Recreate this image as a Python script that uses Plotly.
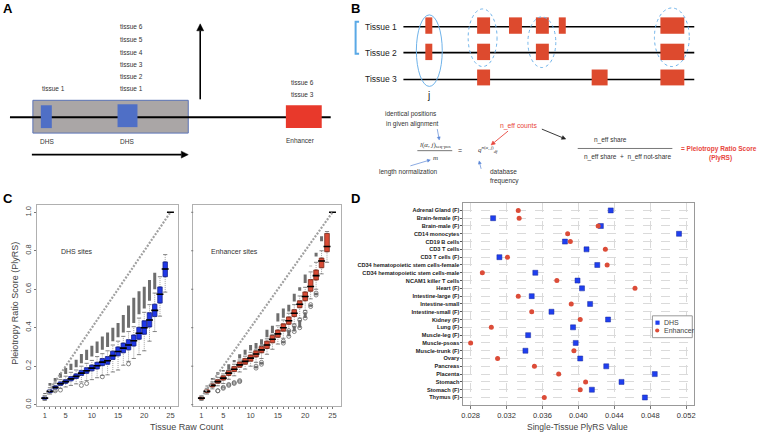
import math
import plotly.graph_objects as go

W, H = 762, 438

# ---- panel C data (box statistics per tissue raw count) ----
counts = list(range(1, 25))

dhs_q1 = [0.028, 0.062, 0.082, 0.100, 0.111, 0.124, 0.136, 0.152, 0.163, 0.176, 0.186, 0.203,
          0.210, 0.235, 0.254, 0.270, 0.285, 0.305, 0.340, 0.366, 0.404, 0.458, 0.528, 0.665]
dhs_med = [0.034, 0.069, 0.090, 0.109, 0.120, 0.134, 0.147, 0.164, 0.176, 0.190, 0.202, 0.221,
           0.228, 0.255, 0.276, 0.294, 0.310, 0.332, 0.371, 0.400, 0.440, 0.490, 0.574, 0.705]
dhs_q3 = [0.040, 0.077, 0.098, 0.118, 0.130, 0.146, 0.160, 0.178, 0.192, 0.206, 0.220, 0.240,
          0.250, 0.278, 0.300, 0.320, 0.338, 0.362, 0.402, 0.436, 0.478, 0.522, 0.612, 0.742]
dhs_lo = [0.022, 0.055, 0.070, 0.085, 0.092, 0.100, 0.108, 0.118, 0.125, 0.130, 0.140, 0.152,
          0.155, 0.170, 0.180, 0.205, 0.225, 0.240, 0.260, 0.280, 0.330, 0.380, 0.460, 0.585]
dhs_hi = [0.048, 0.088, 0.112, 0.130, 0.148, 0.168, 0.180, 0.200, 0.215, 0.230, 0.250, 0.265,
          0.280, 0.310, 0.330, 0.355, 0.380, 0.405, 0.450, 0.480, 0.520, 0.580, 0.665, 0.780]
dhs_out_lo = [0.055, 0.098, 0.120, 0.140, 0.160, 0.180, 0.195, 0.215, 0.232, 0.250, 0.268, 0.285,
              0.300, 0.330, 0.350, 0.375, 0.400, 0.425, 0.470, 0.500, 0.540, 0.600, None, None]
dhs_out_hi = [0.060, 0.112, 0.138, 0.164, 0.190, 0.213, 0.234, 0.263, 0.285, 0.306, 0.328, 0.354,
              0.375, 0.400, 0.424, 0.466, 0.515, 0.556, 0.590, 0.613, 0.648, 0.686, None, None]
dhs_low_x = [3, 4, 8, 9, 12, 17]
dhs_low_y = [0.072, 0.076, 0.100, 0.110, 0.145, 0.212]

enh_q1 = [0.028, 0.062, 0.092, 0.111, 0.128, 0.152, 0.172, 0.194, 0.210, 0.226, 0.248, 0.270,
          0.292, 0.322, 0.350, 0.382, 0.418, 0.458, 0.504, 0.540, 0.590, 0.648, 0.712, 0.795]
enh_med = [0.034, 0.069, 0.100, 0.120, 0.138, 0.164, 0.184, 0.207, 0.225, 0.242, 0.263, 0.285,
           0.310, 0.340, 0.368, 0.400, 0.436, 0.475, 0.522, 0.562, 0.614, 0.671, 0.747, 0.822]
enh_q3 = [0.040, 0.077, 0.108, 0.130, 0.150, 0.178, 0.198, 0.222, 0.240, 0.258, 0.280, 0.302,
          0.330, 0.360, 0.388, 0.420, 0.456, 0.494, 0.540, 0.586, 0.650, 0.700, 0.762, 0.890]
enh_lo = [0.022, 0.055, 0.082, 0.098, 0.110, 0.132, 0.150, 0.170, 0.185, 0.200, 0.220, 0.240,
          0.262, 0.288, 0.315, 0.345, 0.385, 0.420, 0.450, 0.490, 0.550, 0.600, 0.680, 0.740]
enh_hi = [0.046, 0.085, 0.118, 0.142, 0.160, 0.178, 0.210, 0.232, 0.252, 0.272, 0.285, 0.308,
          0.342, 0.366, 0.410, 0.440, 0.475, 0.520, 0.565, 0.610, 0.690, 0.740, 0.800, 0.900]
enh_out_lo = [None, 0.095, 0.130, 0.155, 0.172, 0.182, 0.220, 0.240, 0.260, 0.282, 0.290, 0.312,
              0.350, 0.372, 0.432, 0.452, 0.484, 0.536, 0.592, 0.632, 0.720, 0.770, 0.850, None]
enh_out_hi = [None, 0.100, 0.138, 0.170, 0.180, 0.210, 0.232, 0.262, 0.285, 0.310, 0.320, 0.340,
              0.390, 0.410, 0.475, 0.500, 0.520, 0.576, 0.610, 0.676, 0.722, 0.790, 0.875, None]
enh_low_x = [4, 5, 6, 7, 8, 11, 12, 16, 17, 18, 19, 20, 21, 22]
enh_low_lo = [0.072, 0.085, 0.100, 0.110, 0.120, 0.190, 0.210, 0.320, 0.355, 0.380, 0.400, 0.450, 0.510, 0.570]
enh_low_hi = [0.072, 0.090, 0.105, 0.115, 0.125, 0.200, 0.220, 0.330, 0.385, 0.410, 0.440, 0.480, 0.520, 0.580]

top_x = [25]
top_y = [1.0]
max_x = [1, 25]
max_y = [0.04, 1.0]
c_yticks = [0, 0.2, 0.4, 0.6, 0.8, 1.0]

# ---- panel D data ----
tissues = ["Adrenal Gland (F)", "Brain-female (F)", "Brain-male (F)", "CD14 monocytes", "CD19 B cells",
           "CD3 T cells", "CD3 T cells (F)", "CD34 hematopoietic stem cells-female",
           "CD34 hematopoietic stem cells-male", "NCAM1 killer T cells", "Heart (F)", "Intestine-large (F)",
           "Intestine-small", "Intestine-small (F)", "Kidney (F)", "Lung (F)", "Muscle-leg (F)",
           "Muscle-psoas", "Muscle-trunk (F)", "Ovary", "Pancreas", "Placenta", "Stomach", "Stomach (F)",
           "Thymus (F)"]
dhs_val = [0.0436, 0.0305, 0.0425, 0.0512, 0.0385, 0.0409, 0.0312, 0.0421, 0.0352, 0.0399, 0.0404, 0.0348,
           0.0413, 0.0370, 0.0433, 0.0394, 0.0344, 0.0397, 0.0341, 0.0402, 0.0431, 0.0485, 0.0448, 0.0415,
           0.0474]
enh_val = [0.0333, 0.0334, 0.0422, 0.0388, 0.0391, 0.0430, 0.0321, 0.0432, 0.0293, 0.0376, 0.0463, 0.0333,
           0.0392, 0.0348, 0.0402, 0.0303, None, 0.0280, 0.0395, 0.0310, 0.0351, 0.0378, 0.0408, 0.0402,
           0.0362]
d_ticks = [0.028, 0.032, 0.036, 0.040, 0.044, 0.048, 0.052]


def px(x):
    return x / W


def py(y):
    return 1 - y / H


def segs(xs, lo, hi):
    X, Y = [], []
    for x, a, b in zip(xs, lo, hi):
        if a is None:
            continue
        X += [x, x, None]
        Y += [a, b, None]
    return X, Y


BLUE = "#2038e8"
RED = "#d94b35"
FONT = "Liberation Sans, Arial, sans-serif"

fig = go.Figure()


def add_boxes(xa, ya, q1, med, q3, lo, hi, out_lo, out_hi, fill, edge):
    # whiskers
    wx, wy = segs(counts, lo, q1)
    wx2, wy2 = segs(counts, q3, hi)
    fig.add_trace(go.Scatter(x=wx + wx2, y=wy + wy2, mode="lines", xaxis=xa, yaxis=ya,
                             line=dict(color="#8a8a8a", width=0.8, dash="1px,1px"),
                             hoverinfo="skip", showlegend=False))
    fig.add_trace(go.Scatter(x=counts + counts, y=lo + hi, mode="markers", xaxis=xa, yaxis=ya,
                             marker=dict(symbol="line-ew", size=3, line=dict(color="#666", width=0.8)),
                             hoverinfo="skip", showlegend=False))
    # outlier stacks
    ox, oy = segs(counts, out_lo, out_hi)
    fig.add_trace(go.Scatter(x=ox, y=oy, mode="lines", xaxis=xa, yaxis=ya,
                             line=dict(color="#6e6e6e", width=3),
                             hoverinfo="skip", showlegend=False))
    fig.add_trace(go.Box(x=counts, q1=q1, median=med, q3=q3, lowerfence=q1, upperfence=q3,
                         xaxis=xa, yaxis=ya, width=0.85, fillcolor=fill,
                         line=dict(color=edge, width=0.8), showlegend=False, hoverinfo="skip"))
    fig.add_trace(go.Scatter(x=counts + top_x, y=med + top_y, mode="markers", xaxis=xa, yaxis=ya,
                             marker=dict(symbol="line-ew", size=5, line=dict(color="black", width=1.6)),
                             hoverinfo="skip", showlegend=False))
    fig.add_trace(go.Scatter(x=max_x, y=max_y, mode="lines", xaxis=xa, yaxis=ya,
                             line=dict(color="#a0a0a0", width=2.2, dash="2px,1.5px"),
                             hoverinfo="skip", showlegend=False))


add_boxes("x", "y", dhs_q1, dhs_med, dhs_q3, dhs_lo, dhs_hi, dhs_out_lo, dhs_out_hi, BLUE, "#16228a")
fig.add_trace(go.Scatter(x=dhs_low_x, y=dhs_low_y, mode="markers", xaxis="x", yaxis="y",
                         marker=dict(symbol="circle-open", size=4, color="#666", line=dict(width=0.8)),
                         hoverinfo="skip", showlegend=False))

add_boxes("x2", "y2", enh_q1, enh_med, enh_q3, enh_lo, enh_hi, enh_out_lo, enh_out_hi, RED, "#7a2a1a")
lx, ly = segs(enh_low_x, enh_low_lo, enh_low_hi)
fig.add_trace(go.Scatter(x=lx, y=ly, mode="lines+markers", xaxis="x2", yaxis="y2",
                         line=dict(color="#6e6e6e", width=3),
                         marker=dict(symbol="circle-open", size=4, color="#666", line=dict(width=0.8)),
                         hoverinfo="skip", showlegend=False))

# panel D
fig.add_trace(go.Scatter(x=dhs_val, y=tissues, mode="markers", name="DHS", xaxis="x3", yaxis="y3",
                         marker=dict(symbol="square", size=5, color="#1f3ff0",
                                     line=dict(color="#1a2a9a", width=0.5)), showlegend=False))
fig.add_trace(go.Scatter(x=enh_val, y=tissues, mode="markers", name="Enhancer", xaxis="x3", yaxis="y3",
                         marker=dict(symbol="circle", size=5, color="#dc4c38"), showlegend=False))

c_ax = dict(showline=True, mirror=True, linecolor="#b0b0b0", linewidth=1, showgrid=False, zeroline=False,
            ticks="outside", ticklen=2, tickcolor="#777", tickfont=dict(family=FONT, size=7.5, color="#444"))

fig.update_layout(
    width=W, height=H, margin=dict(l=0, r=0, t=0, b=0),
    paper_bgcolor="white", plot_bgcolor="white", showlegend=False,
    xaxis=dict(c_ax, domain=[px(35), px(177)], range=[-0.5, 26.5], anchor="y",
               tickvals=[1, 5, 10, 15, 20, 25],
               minor=dict(tickmode="array", tickvals=list(range(1, 26)), ticks="outside", ticklen=2,
                          tickcolor="#777")),
    yaxis=dict(c_ax, domain=[py(409), py(206)], range=[-0.008, 1.04], anchor="x",
               tickvals=c_yticks, ticktext=["%.1f" % v for v in c_yticks], tickangle=-90),
    xaxis2=dict(c_ax, domain=[px(192), px(340)], range=[-0.5, 26.5], anchor="y2",
                tickvals=[1, 5, 10, 15, 20, 25],
                minor=dict(tickmode="array", tickvals=list(range(1, 26)), ticks="outside", ticklen=2,
                           tickcolor="#777")),
    yaxis2=dict(domain=[py(409), py(206)], range=[-0.008, 1.04], anchor="x2", showline=True, mirror=True,
                linecolor="#b0b0b0", linewidth=1, showgrid=False, zeroline=False, ticks="",
                showticklabels=False),
    xaxis3=dict(domain=[px(463.3), px(695)], range=[0.0272, 0.0529], anchor="y3",
                tickvals=d_ticks, tickformat=".3f", showline=True, mirror=True, linecolor="#999",
                showgrid=True, gridcolor="#dadada", griddash="dash", zeroline=False,
                ticks="outside", ticklen=3, tickcolor="#777",
                tickfont=dict(family=FONT, size=7.5, color="#333")),
    yaxis3=dict(domain=[py(407.3), py(204)], type="category", categoryorder="array", categoryarray=tissues,
                tickmode="array", tickvals=tissues, ticktext=tissues,
                range=[24.9, -1.0], anchor="x3", showline=True, mirror=True, linecolor="#999",
                showgrid=True, gridcolor="#dadada", griddash="dash", zeroline=False,
                ticks="outside", ticklen=2, tickcolor="#555",
                tickfont=dict(family=FONT, size=5.6, color="#222", weight="bold")),
)

shapes = []
ann = []

# unlabeled tick marks on the left edge of the enhancer panel
for v in c_yticks:
    shapes.append(dict(type="line", xref="x2 domain", yref="y2", x0=-0.014, x1=0, y0=v, y1=v,
                       line=dict(color="#777", width=1)))


def text(x, y, s, size=6.5, color="#333", anchor="center", bold=False, family=FONT, **kw):
    if bold:
        s = "<b>" + s + "</b>"
    ann.append(dict(x=px(x), y=py(y), xref="paper", yref="paper", text=s, showarrow=False,
                    xanchor=anchor, yanchor="middle", font=dict(family=family, size=size, color=color), **kw))


def rect(x0, y0, x1, y1, fill, line=None, lw=0, dash=None):
    shapes.append(dict(type="rect", xref="paper", yref="paper", x0=px(x0), x1=px(x1), y0=py(y0), y1=py(y1),
                       fillcolor=fill, line=dict(color=line or fill, width=lw, dash=dash)))


def seg(x0, y0, x1, y1, color="black", width=1):
    shapes.append(dict(type="line", xref="paper", yref="paper", x0=px(x0), x1=px(x1), y0=py(y0), y1=py(y1),
                       line=dict(color=color, width=width)))


def ellipse(x0, y0, x1, y1, dash=None):
    shapes.append(dict(type="circle", xref="paper", yref="paper", x0=px(x0), x1=px(x1), y0=py(y0), y1=py(y1),
                       line=dict(color="#6fb3ea", width=1, dash=dash)))


def arrow(x0, y0, x1, y1, color="black", width=1.5, hl=7, hw=3.5):
    # shaft plus filled triangular head, pixel coordinates
    d = math.hypot(x1 - x0, y1 - y0)
    ux, uy = (x1 - x0) / d, (y1 - y0) / d
    bx, by = x1 - ux * hl, y1 - uy * hl
    seg(x0, y0, bx, by, color, width)
    pts = [(x1, y1), (bx - uy * hw, by + ux * hw), (bx + uy * hw, by - ux * hw)]
    path = "M " + " L ".join("%f,%f" % (px(a), py(b)) for a, b in pts) + " Z"
    shapes.append(dict(type="path", xref="paper", yref="paper", path=path, fillcolor=color,
                       line=dict(color=color, width=0.5)))


# panel labels
for lab, x, y in [("A", 6, 9), ("B", 355, 9), ("C", 6, 200), ("D", 355, 200)]:
    text(x, y, lab, size=13, color="black", bold=True)

# ---- panel A diagram ----
rect(31, 101, 187, 134, "#aaa6a6", "#5b72b5", 1)
seg(8, 118, 330, 118, "black", 2)
rect(39, 106, 50, 129, "#4f6fc6")
rect(116, 105, 136, 128, "#4f6fc6")
rect(285, 106, 321, 129, "#e8392b")
text(52, 89, "tissue 1")
for i, yy in enumerate([89.3, 76.7, 65, 53.3, 40, 26.7]):
    text(130, yy, "tissue %d" % (i + 1))
text(302, 83, "tissue 6")
text(302, 95, "tissue 3")
text(45, 142, "DHS")
text(125, 142, "DHS")
text(300, 141, "Enhancer")
arrow(199, 100, 199, 24, width=1.6)
arrow(30, 155.7, 187, 155.7, width=1.6)

# ---- panel B diagram ----
shapes.append(dict(type="path", xref="paper", yref="paper",
                   path="M %f,%f L %f,%f L %f,%f L %f,%f" % (px(358.5), py(22), px(355), py(22),
                                                              px(355), py(54), px(358.5), py(54)),
                   line=dict(color="#5aa9e6", width=2)))
for yy, lab in [(27, "Tissue 1"), (53, "Tissue 2"), (80, "Tissue 3")]:
    seg(403, yy, 695, yy, "black", 1.6)
    text(362, yy, lab, size=8.5, color="#222", anchor="left")
BRED = "#dd4a2e"
for x0, x1 in [(425, 432), (477, 490), (509, 522), (536, 549), (559, 566), (661, 685)]:
    rect(x0, 17.5, x1, 34, BRED)
for x0, x1 in [(425, 432), (477, 490), (536, 549), (661, 685)]:
    rect(x0, 44, x1, 60.5, BRED)
for x0, x1 in [(477, 490), (592, 608), (661, 685)]:
    rect(x0, 70, x1, 86, BRED)
ellipse(416, 15, 442, 87)
ellipse(468, 9, 497, 67, "dot")
ellipse(528, 17, 556, 68, "dot")
ellipse(655, 8, 690, 67, "dot")
text(428, 96, "j", size=10, color="#222")

text(411, 115, "identical positions")
text(412, 125, "in given alignment")
text(435, 145.5, "<i>l</i>(<i>α</i>, <i>j</i>)<sub>seq-pos</sub>", size=7, family="Liberation Serif, serif")
seg(417, 151.7, 452, 151.7, "#555", 0.8)
text(435, 159.5, "<i>m</i>", size=7, family="Liberation Serif, serif")
text(460, 151.7, "=", size=7)
text(488, 151, "<i>q</i><sup><i>n</i>(<i>α</i>, <i>j</i>)</sup><sub><i>df</i></sub>", size=7,
     family="Liberation Serif, serif")
text(440, 173.3, "length normalization", anchor="right")
text(519, 126.7, "n_eff counts", color="#e8453c", size=6.8)
text(488, 173, "database", anchor="left")
text(488, 182.7, "frequency", anchor="left")
arrow(437, 130, 439, 141, color="#5a86d6", width=0.7, hl=3, hw=1.5)
arrow(410, 167, 430, 161, color="#5a86d6", width=0.7, hl=3, hw=1.5)
arrow(481, 170, 479, 162, color="#5a86d6", width=0.7, hl=3, hw=1.5)
arrow(508, 132, 491, 146, color="#e8453c", width=0.9, hl=4, hw=2)
arrow(542, 130, 566, 140, color="#222", width=0.9, hl=4, hw=2)
text(611, 141, "n_eff share")
seg(578, 149.5, 673, 149.5, "#555", 0.8)
text(628, 158.3, "n_eff share  +  n_eff not-share")
text(719.5, 150, "= Pleiotropy Ratio Score", color="#e8453c", bold=True)
text(721.5, 159.3, "(PlyRS)", color="#e8453c", bold=True)

# ---- panel C texts ----
text(75, 253, "DHS sites", size=7, color="#333")
text(233, 253, "Enhancer sites", size=7, color="#333")
text(13, 305, "Pleiotropy Ratio Score (PlyRS)", size=9, color="#444", textangle=-90)
text(186, 430, "Tissue Raw Count", size=9, color="#444")

# ---- panel D texts and legend ----
text(578, 430, "Single-Tissue PlyRS Value", size=8.5, color="#444")
rect(653, 318, 693, 340, "white", "#999", 1)
rect(656, 322.8, 660.2, 327, "#1f3ff0")
shapes.append(dict(type="circle", xref="paper", yref="paper", x0=px(655.7), x1=px(659.9), y0=py(330.7),
                   y1=py(334.9), fillcolor="#dc4c38", line=dict(color="#dc4c38", width=0)))
text(663, 324.8, "DHS", size=7, color="#444", anchor="left")
text(663, 332.8, "Enhancer", size=7, color="#444", anchor="left")

fig.update_layout(shapes=shapes, annotations=ann)
fig.write_html("out.html", config={"displayModeBar": False},
               post_script="document.body.style.margin='0';")
